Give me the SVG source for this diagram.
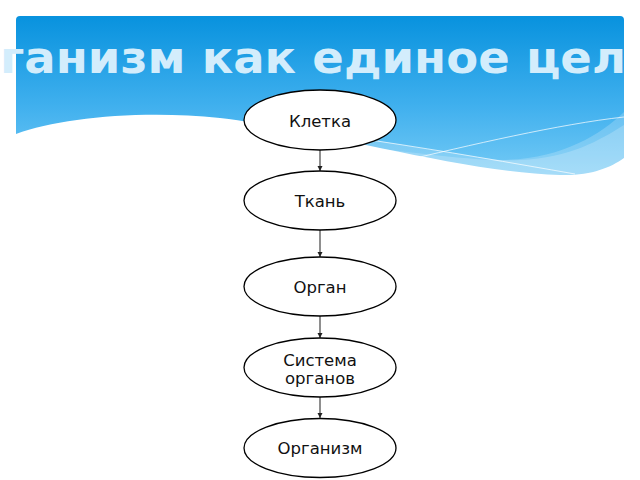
<svg xmlns="http://www.w3.org/2000/svg" width="640" height="480" viewBox="0 0 640 480">
<defs>
<linearGradient id="sky" x1="0" y1="16" x2="0" y2="180" gradientUnits="userSpaceOnUse">
<stop offset="0" stop-color="#0892de"/>
<stop offset="0.55" stop-color="#40b0ee"/>
<stop offset="1" stop-color="#78ccf6"/>
</linearGradient>
<marker id="ah" viewBox="0 0 10 10" refX="10" refY="5" markerWidth="5" markerHeight="6" markerUnits="userSpaceOnUse" orient="auto">
<path d="M0,0 L10,5 L0,10 Z" fill="#222"/>
</marker>
<style>
.node ellipse{fill:#fff;stroke:#000;stroke-width:1.3}
.node text{font-family:"DejaVu Sans",Verdana,sans-serif;font-size:16.5px;fill:#111;text-anchor:middle}
.edge{stroke:#444;stroke-width:1.2;fill:none;marker-end:url(#ah)}
.title{font-family:"DejaVu Sans",sans-serif;font-weight:bold;font-size:44px;fill:#d3edfc}
</style>
</defs>
<rect width="640" height="480" fill="#fff"/>
<g id="header">
<rect x="16" y="16" width="608" height="166" rx="4" fill="url(#sky)"/>
<path d="M200,118 C300,124 420,150 500,160 C560,160 600,135 624,112 L624,182 L200,182 Z" fill="#fff" opacity="0.2"/>
<path d="M300,140 C400,150 470,162 520,160 C570,158 600,140 624,125 L624,182 L300,182 Z" fill="#fff" opacity="0.2"/>
<path d="M16,134 C60,118 140,110 220,118 C320,130 460,172 560,175 C590,176 610,168 624,158 L624,182 L16,182 Z" fill="#fff"/>
<path d="M190,120 C300,126 450,152 575,174" stroke="#fff" stroke-width="1" fill="none" opacity="0.7"/>
<path d="M395,163 C470,145 560,124 624,117" stroke="#fff" stroke-width="1" fill="none" opacity="0.7"/>
<text class="title" x="0" y="73" textLength="626" lengthAdjust="spacingAndGlyphs">ганизм как единое цел</text>
</g>
<g id="connectors">
<line class="edge" x1="320" y1="150" x2="320" y2="171"/>
<line class="edge" x1="320" y1="230" x2="320" y2="257"/>
<line class="edge" x1="320" y1="316" x2="320" y2="338"/>
<line class="edge" x1="320" y1="397" x2="320" y2="418"/>
</g>
<g id="n1" class="node"><ellipse cx="320" cy="120" rx="76" ry="30"/><text x="320" y="126.5">Клетка</text></g>
<g id="n2" class="node"><ellipse cx="320" cy="200.5" rx="76" ry="29.5"/><text x="320" y="207">Ткань</text></g>
<g id="n3" class="node"><ellipse cx="320" cy="286.5" rx="76" ry="29.5"/><text x="320" y="293">Орган</text></g>
<g id="n4" class="node"><ellipse cx="320" cy="367.5" rx="76" ry="29.5"/><text x="320" y="366">Система</text><text x="320" y="383.5">органов</text></g>
<g id="n5" class="node"><ellipse cx="320" cy="448" rx="76" ry="29.5"/><text x="320" y="454">Организм</text></g>
</svg>
